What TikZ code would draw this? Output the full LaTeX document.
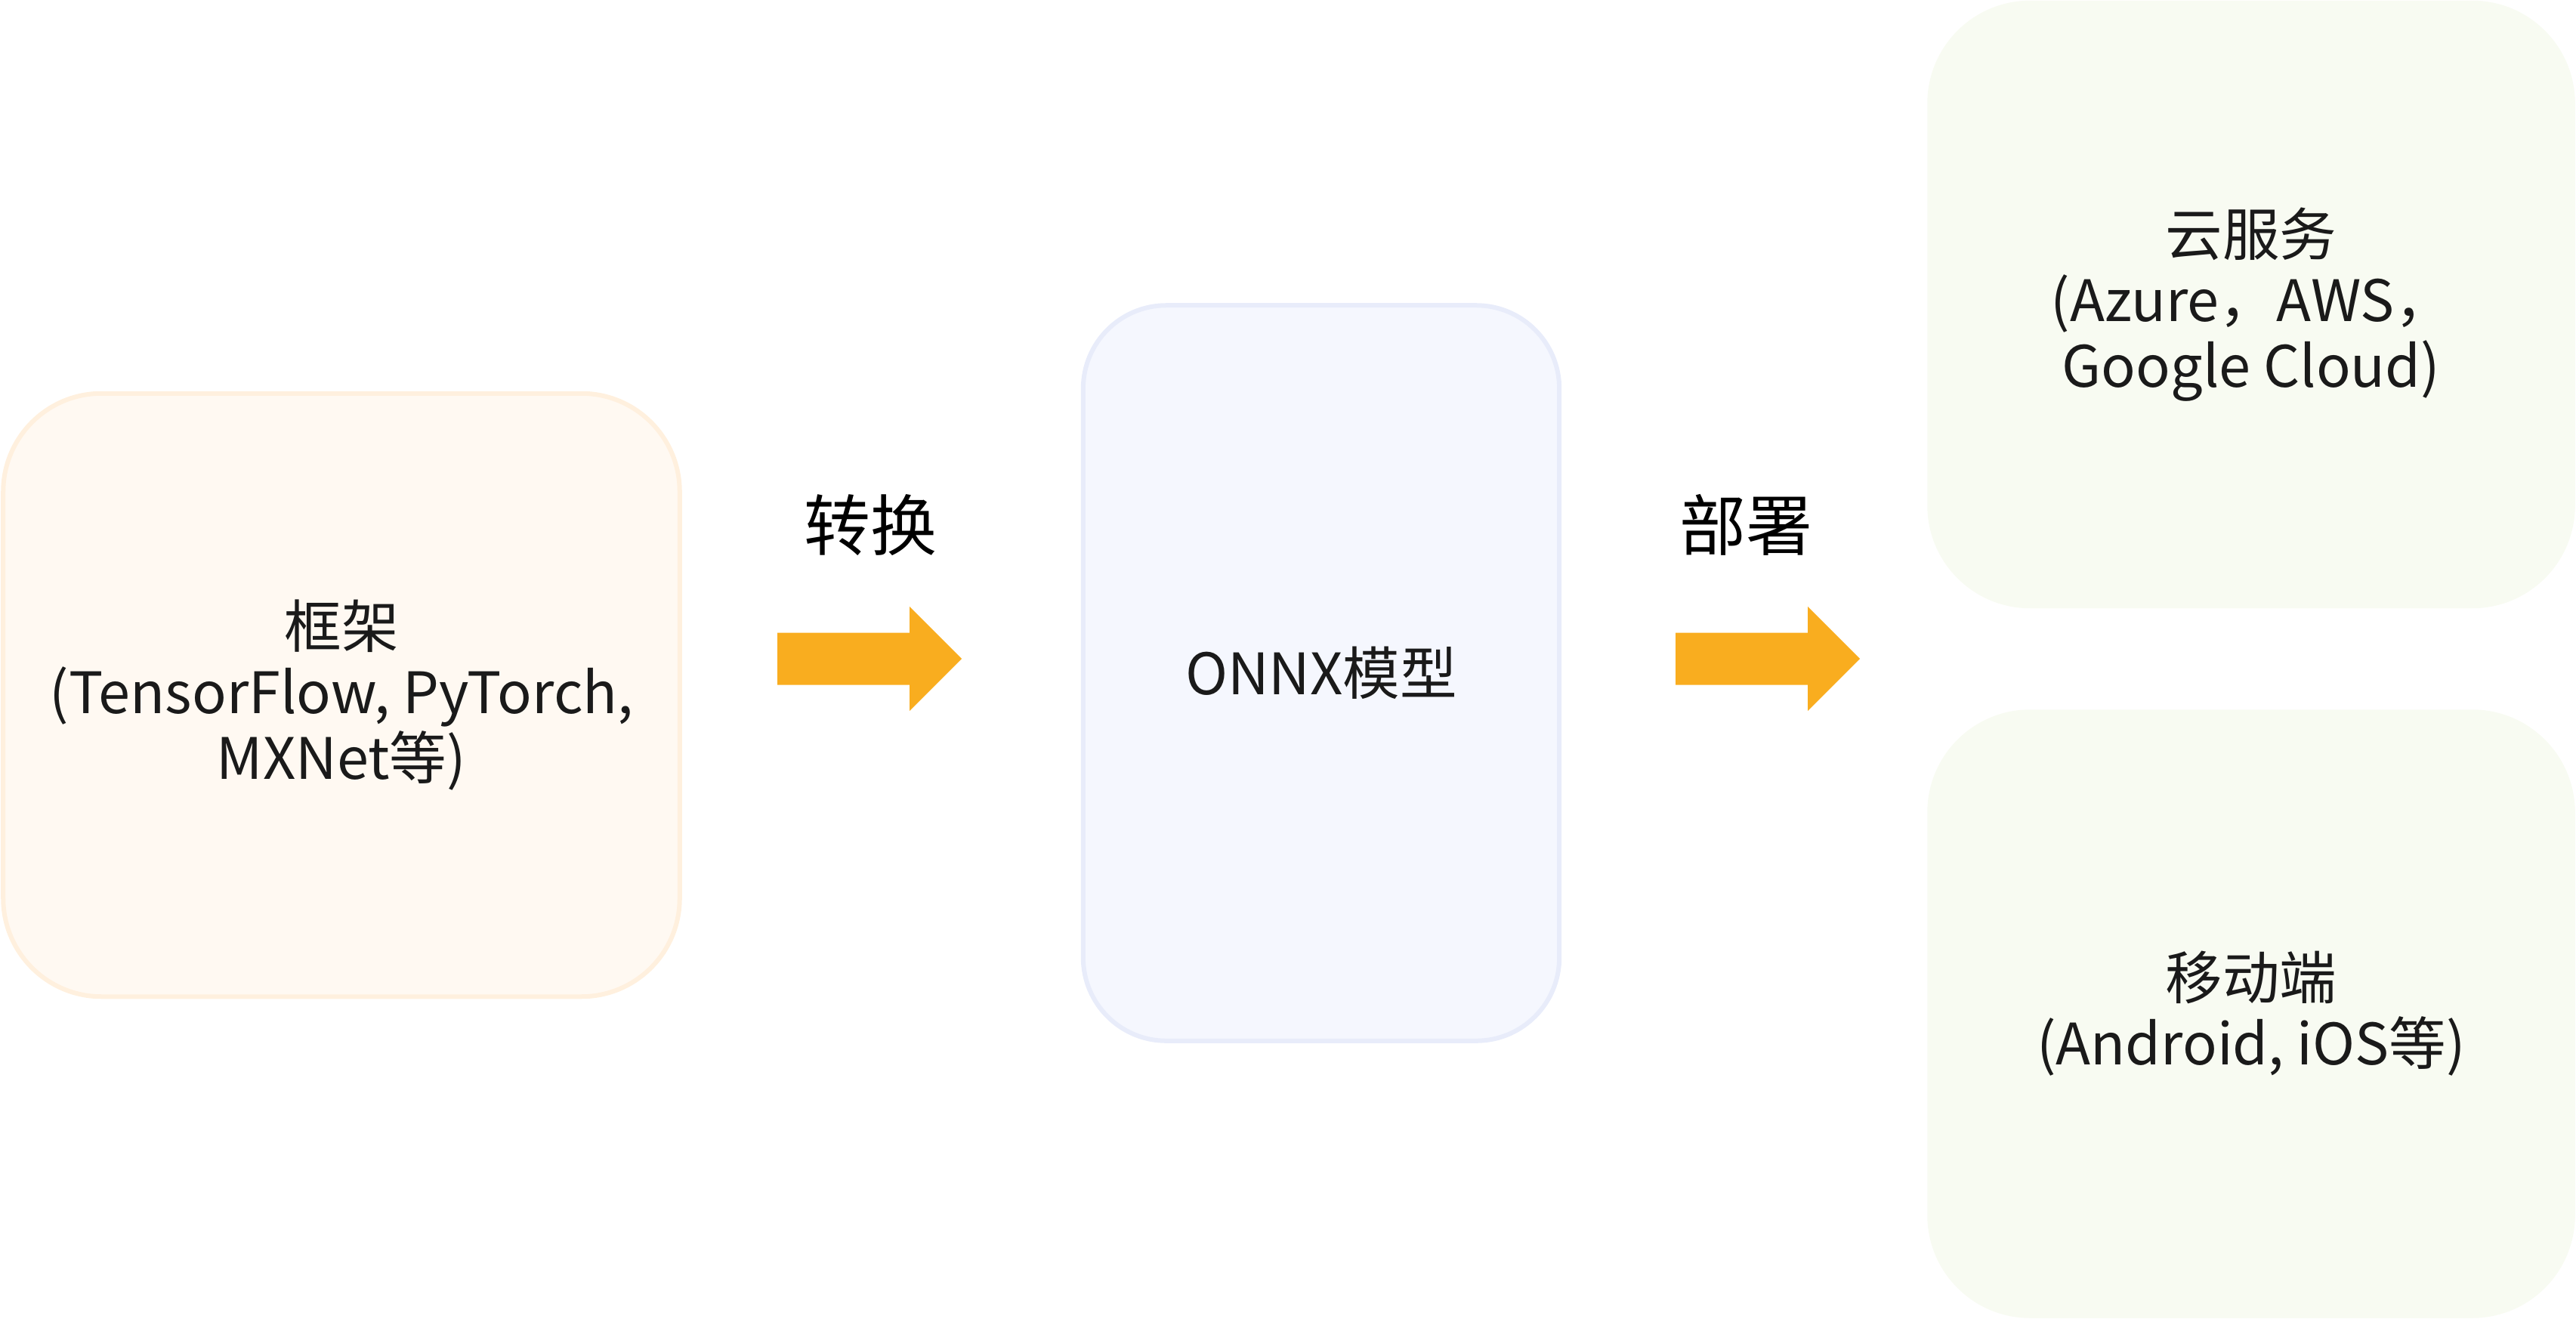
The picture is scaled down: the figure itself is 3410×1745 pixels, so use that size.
\documentclass[tikz,border=0pt]{standalone}
\usepackage{fontspec}
\setmainfont{Noto Sans CJK SC}
\usepackage{tikz}
\usetikzlibrary{positioning}
\definecolor{framefill}{HTML}{FFF9F2}
\definecolor{frameline}{HTML}{FFF0DE}
\definecolor{onnxfill}{HTML}{F5F7FE}
\definecolor{onnxline}{HTML}{E8ECFA}
\definecolor{targetfill}{HTML}{F8FBF2}
\definecolor{arrowfill}{HTML}{F9AD1F}
\definecolor{textdark}{HTML}{1A1A1A}

\begin{document}
\begin{tikzpicture}[x=0.01cm,y=-0.01cm]
\useasboundingbox (0,0) rectangle (3410,1745);

\tikzstyle box=[rectangle, rounded corners=1.3cm, line width=0.06cm, align=center,
  text=textdark, font=\fontsize{21.5pt}{24.8pt}\selectfont]
\tikzstyle step label=[font=\fontsize{25pt}{28pt}\selectfont, text=black]
\tikzstyle block=[fill=arrowfill]

% boxes
\node[box, fill=framefill, draw=frameline, minimum width=8.95cm, minimum height=7.98cm]
  (frame) at (452,920) {框架\\(TensorFlow, PyTorch,\\MXNet等)};
\node[box, rounded corners=1.1cm, fill=onnxfill, draw=onnxline, minimum width=6.3cm, minimum height=9.73cm]
  (onnx) at (1749,891) {ONNX模型};
\node[box, rounded corners=1.36cm, fill=targetfill, minimum width=8.57cm, minimum height=8.04cm]
  (cloud) at (2980,403) {云服务\\(Azure，AWS，\\Google Cloud)};
\node[box, rounded corners=1.36cm, fill=targetfill, minimum width=8.57cm, minimum height=8.05cm]
  (mobile) at (2980,1342) {移动端\\(Android, iOS等)};

% block arrows
\coordinate (conv) at (1029,872);
\coordinate (deploy) at (2218,872);
\foreach \a in {conv,deploy}
  \fill[block] (\a) ++(0,-34.5) -- ++(175,0) -- ++(0,-34.5) -- ++(69,69)
    -- ++(-69,69) -- ++(0,-34.5) -- ++(-175,0) -- cycle;

\node[step label] (convlabel) at (1152,695) {转换};
\node[step label] (deploylabel) at (2311,695) {部署};
\end{tikzpicture}
\end{document}
